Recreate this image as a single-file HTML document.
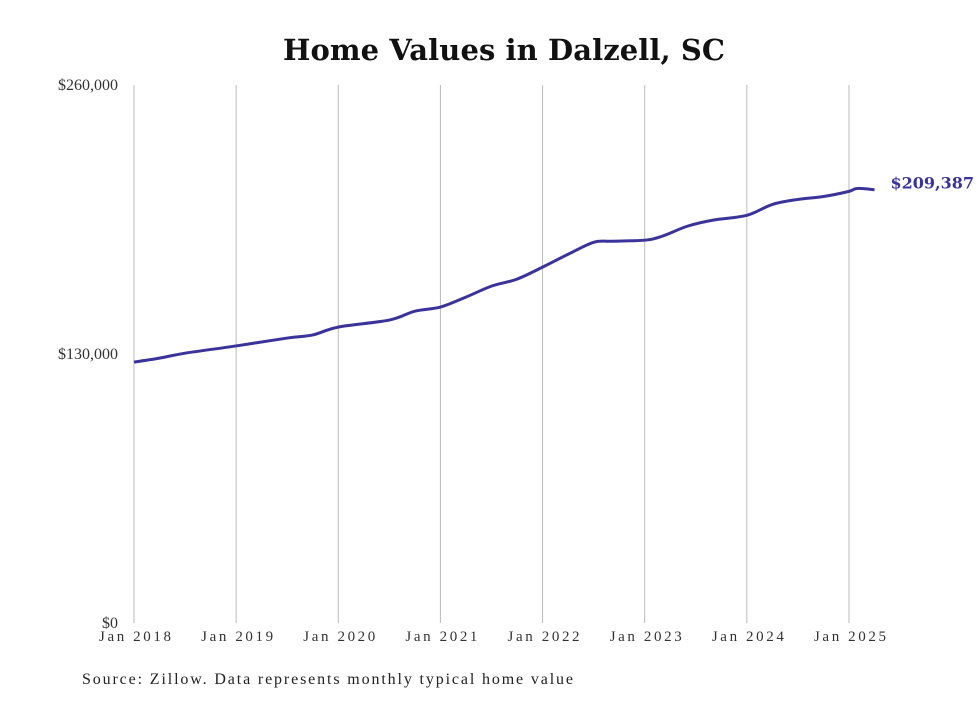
<!DOCTYPE html>
<html><head><meta charset="utf-8"><style>
body{margin:0;background:#fff;width:980px;height:699px;overflow:hidden;font-family:"DejaVu Serif","Liberation Serif",serif;}
</style></head><body>
<svg width="980" height="699">
<text x="504" y="60" text-anchor="middle" font-size="29" font-weight="bold" fill="#111" textLength="442">Home Values in Dalzell, SC</text>
<g id="grid"></g>
<g id="yt"></g>
<g id="xt"></g>
<path id="line" fill="none" stroke="#3a3399" stroke-width="3"/>
<text id="endlbl" font-size="16" font-weight="bold" fill="#3a3399"></text>
<text x="82" y="684" font-size="16" fill="#222" font-family="Liberation Serif,serif" textLength="491">Source: Zillow. Data represents monthly typical home value</text>
</svg>
<script>
const dates=[2018,2018.25,2018.5,2019,2019.5,2019.75,2020,2020.5,2020.75,2021,2021.25,2021.5,2021.75,2022,2022.25,2022.5,2022.67,2023,2023.17,2023.42,2023.67,2024,2024.25,2024.5,2024.75,2025,2025.08,2025.25];
const values=[126100,128000,130400,133900,137700,139200,143000,146400,150700,152700,157500,162800,166200,172000,178200,184000,184500,185000,186900,191800,194700,197000,202300,204700,206100,208600,210000,209387];
const yTicks=[0,130000,260000];
const yLabels=["$0","$130,000","$260,000"];
const xYears=[2018,2019,2020,2021,2022,2023,2024,2025];
const ns="http://www.w3.org/2000/svg";
const X=d=>134+(d-2018)*102.14;
const Y=v=>623-v/260000*538;
const grid=document.getElementById('grid'),yt=document.getElementById('yt'),xt=document.getElementById('xt');
xYears.forEach(yr=>{
 const l=document.createElementNS(ns,'line');
 
 
 l.setAttribute('x1',X(yr));l.setAttribute('x2',X(yr));l.setAttribute('y1',85);l.setAttribute('y2',623);
 l.setAttribute('stroke','#bbb');l.setAttribute('stroke-width','1');grid.appendChild(l);
 const t=document.createElementNS(ns,'text');
 
 
 t.setAttribute('x',X(yr)+1);t.setAttribute('y',641);t.setAttribute('text-anchor','middle');
 t.setAttribute('font-size','15');t.setAttribute('fill','#333');t.setAttribute('font-family','Liberation Serif,serif');t.setAttribute('textLength','72');
 t.textContent='Jan '+yr;xt.appendChild(t);
});
yTicks.forEach((v,i)=>{
 const t=document.createElementNS(ns,'text');
 
 
 t.setAttribute('x',118);t.setAttribute('y',Y(v)+5);t.setAttribute('text-anchor','end');
 t.setAttribute('font-size','16');t.setAttribute('fill','#333');t.setAttribute('font-family','Liberation Serif,serif');
 t.textContent=yLabels[i];yt.appendChild(t);
});
const pts=dates.map((d,i)=>[X(d),Y(values[i])]);
let p='M'+pts[0][0]+','+pts[0][1];
for(let i=0;i<pts.length-1;i++){
 const p0=pts[i-1]||pts[i],p1=pts[i],p2=pts[i+1],p3=pts[i+2]||p2;
 const c1=[p1[0]+(p2[0]-p0[0])/6,p1[1]+(p2[1]-p0[1])/6],c2=[p2[0]-(p3[0]-p1[0])/6,p2[1]-(p3[1]-p1[1])/6];
 p+=` C${c1} ${c2} ${p2}`;
}
document.getElementById('line').setAttribute('d',p);
const last=pts[pts.length-1],el=document.getElementById('endlbl');
el.setAttribute('x',last[0]+16);el.setAttribute('y',last[1]-1);
el.textContent='$'+values[values.length-1].toLocaleString('en-US');
</script>
</body></html>
